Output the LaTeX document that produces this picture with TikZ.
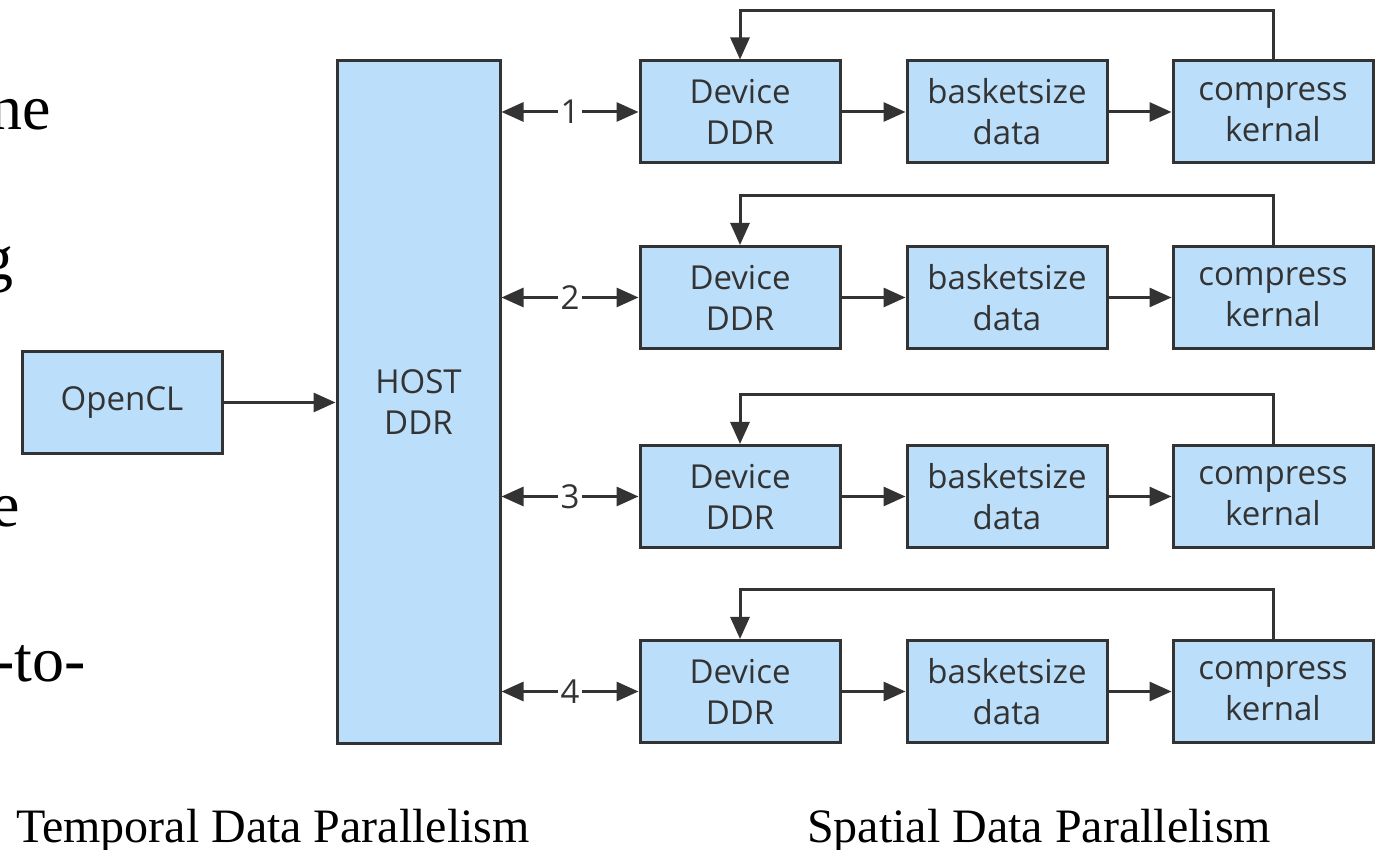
\documentclass[tikz,border=0pt]{standalone}
\usepackage{fontspec}
\setmainfont{Liberation Serif}
\newfontfamily\boxfont{Open Sans}
\usetikzlibrary{arrows.meta}
\definecolor{boxblue}{HTML}{BBDEFA}
\definecolor{linegray}{HTML}{333333}

\begin{document}
\begin{tikzpicture}[x=0.5pt,y=0.5pt,
    >={Triangle[length=11pt,width=9.5pt]},
    box/.style={draw=linegray,line width=1.5pt,fill=boxblue,text=linegray,
      minimum width=100pt,minimum height=51pt,inner sep=0pt,align=center,
      font=\boxfont\fontsize{16.5}{20.5}\selectfont},
    link/.style={draw=linegray,line width=1.5pt},
    num/.style={fill=white,text=linegray,inner sep=1.5pt,
      font=\boxfont\fontsize{16.5}{20}\selectfont},
    margin/.style={anchor=base east,inner sep=0pt,font=\fontsize{32}{36}\selectfont}]
  \useasboundingbox (0,0) rectangle (1380,850);

  % text running in from the left margin
  \node[margin] (t1) at (51,720) {ne};
  \node[margin] (t2) at (14,570) {g};
  \node[margin] (t3) at (20,323) {e};
  \node[margin] (t4) at (86,168) {-to-};

  \node[box] (ocl) at (122,447.5) {OpenCL};
  \node[box,minimum width=81.5pt,minimum height=341.5pt] (host) at (418.5,447.5) {HOST\\DDR};
  \draw[link,->] (ocl) -- (host);

  % one row per device
  \foreach \i/\y in {1/738,2/552.5,3/353.5,4/158.5} {
    \node[box] (dev\i) at (740,\y) {Device\\DDR};
    \node[box] (bas\i) at (1007,\y) {basketsize\\data};
    \node[box] (cmp\i) at (1273,\y) {compress\\kernal};
    \draw[link,<->] (host.east |- dev\i) -- node[num] {\i} (dev\i.west);
    \draw[link,->] (dev\i) -- (bas\i);
    \draw[link,->] (bas\i) -- (cmp\i);
    \draw[link,->] (cmp\i.north) -- ++(0,49) -| (dev\i.north);
  }

  \node[anchor=base,font=\fontsize{24}{28}\selectfont] (temporal) at (273,7) {Temporal Data Parallelism};
  \node[anchor=base,font=\fontsize{24}{28}\selectfont] (spatial) at (1039,7) {Spatial Data Parallelism};
\end{tikzpicture}
\end{document}
